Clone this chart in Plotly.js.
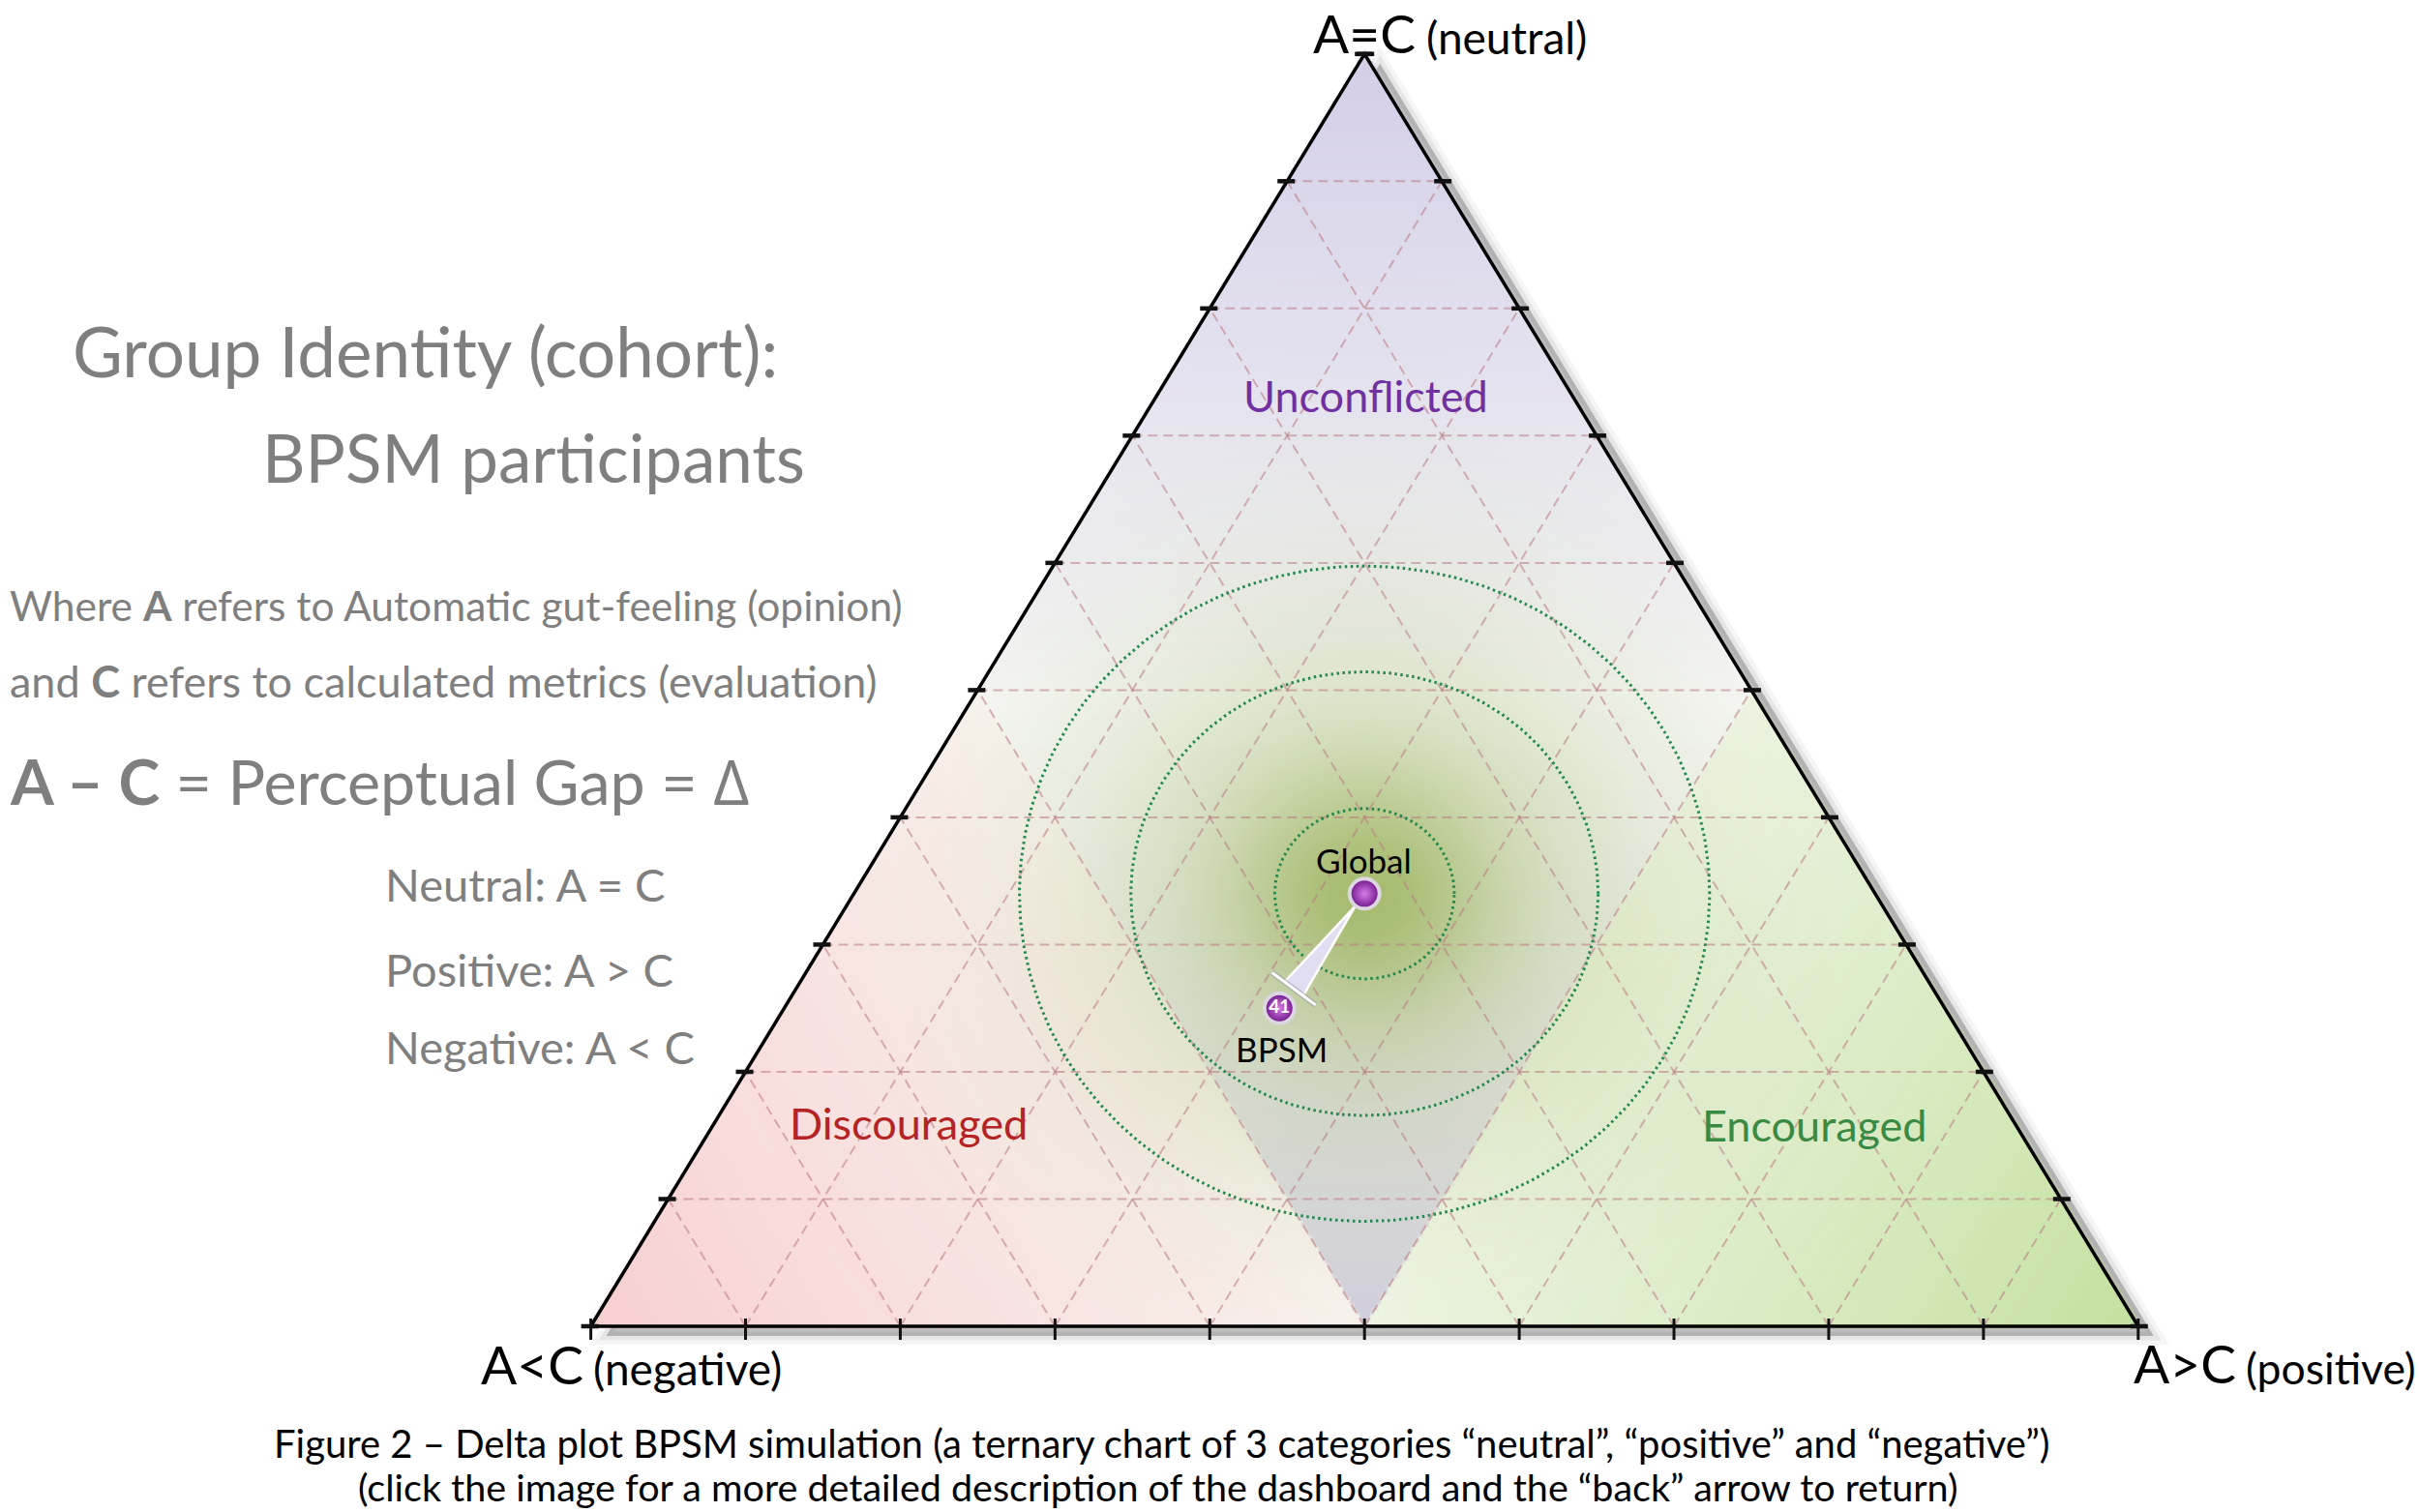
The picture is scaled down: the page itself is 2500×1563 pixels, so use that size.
<!DOCTYPE html>
<html>
<head>
<meta charset="utf-8">
<script src="https://cdn.plot.ly/plotly-3.0.1.min.js"></script>
<style>
html,body{margin:0;padding:0;background:#ffffff;}
#chart{width:2500px;height:1563px;}
</style>
</head>
<body>
<div id="chart"></div>
<script>
// ================= DATA =================
const pointNames    = ['Global', 'BPSM'];
const neutralShare  = [0.34, 0.25];   // A = C
const positiveShare = [0.33, 0.32];   // A > C
const negativeShare = [0.33, 0.43];   // A < C
const pointCounts   = ['', '41'];
const ringRadii     = [0.058, 0.151, 0.223];   // dotted rings around Global (fraction of side)
const gridLevels    = [0.1, 0.2, 0.3, 0.4, 0.5, 0.6, 0.7, 0.8, 0.9];
const tickLevels    = [0, 0.1, 0.2, 0.3, 0.4, 0.5, 0.6, 0.7, 0.8, 0.9, 1];
const vertexMain    = ['A=C', 'A&lt;C', 'A&gt;C'];
const vertexSub     = ['(neutral)', '(negative)', '(positive)'];
const regionNames   = ['Unconflicted', 'Discouraged', 'Encouraged'];
const regionThreshold = 0.5;

// ================= GEOMETRY (layout) =================
const PAGE = {W: 2500, H: 1563};
const TRI = {x0: 610.6, w: 1599.2, yb: 1371, h: 1315.2};
const SQ = Math.sqrt(3) / 2;
function tern(a, b) { return [b + a / 2, a]; }              // neutral a, positive b -> X,Y
function toPx(p) { return [TRI.x0 + p[0] * TRI.w, TRI.yb - p[1] * TRI.h]; }
function fromPx(q) { return [(q[0] - TRI.x0) / TRI.w, (TRI.yb - q[1]) / TRI.h]; }
const xRange = [-TRI.x0 / TRI.w, (PAGE.W - TRI.x0) / TRI.w];
const yRange = [-(PAGE.H - TRI.yb) / TRI.h, TRI.yb / TRI.h];
function P(px, py) { return {x: px / PAGE.W, y: 1 - py / PAGE.H}; }

const FONT = 'Lato, "Open Sans", Arial, sans-serif';
const traces = [];

// ================= BACKGROUND FIELDS (heatmaps) =================
const nx = 461, ny = 386;
const gx = [], gy = [];
for (let i = 0; i < nx; i++) gx.push(-0.01 + i * 1.02 / (nx - 1));
for (let j = 0; j < ny; j++) gy.push(-0.01 + j * 1.02 / (ny - 1));
const G = tern(neutralShare[0], positiveShare[0]);
function field(fn) {
  const z = [];
  for (let j = 0; j < ny; j++) {
    const row = new Array(nx);
    const Y = gy[j];
    for (let i = 0; i < nx; i++) {
      const X = gx[i];
      const a = Y, b = X - Y / 2, c = 1 - a - b;
      const e = -0.0015;
      row[i] = (a >= e && b >= e && c >= e) ? fn(a, b, c, X, Y) : 0;
    }
    z.push(row);
  }
  return z;
}
function heat(z, rgb) {
  traces.push({
    type: 'heatmap', x: gx, y: gy, z: z, zmin: 0, zmax: 1, zsmooth: 'best',
    showscale: false, hoverinfo: 'skip',
    colorscale: [[0, 'rgba(' + rgb + ',0)'], [1, 'rgba(' + rgb + ',1)']]
  });
}
const T = regionThreshold;
heat(field((a, b, c) => a >= T ? 0.08 + 0.62 * (a - T) / (1 - T) : 0), '192,184,220');
heat(field((a, b, c) => (a < T && b < T && c < T) ? 0.07 + 0.62 * Math.pow((T - a) / T, 1.7) : 0), '194,187,216');
heat(field((a, b, c) => c >= T ? 0.08 + 0.38 * (c - T) / (1 - T) : 0), '236,150,150');
heat(field((a, b, c) => b >= T ? 0.12 + 0.52 * (b - T) / (1 - T) : 0), '162,206,104');
heat(field((a, b, c, X, Y) => {
  const dx = X - G[0], dy = (Y - G[1]) * SQ;
  const d = Math.sqrt(dx * dx + dy * dy);
  return 0.33 * Math.exp(-Math.pow(d / 0.08, 2)) + 0.33 * Math.exp(-Math.pow(d / 0.21, 2));
}), '125,158,40');

// ================= GRID =================
const gridX = [], gridY = [];
function addSeg(p, q, ax, ay) { ax.push(p[0], q[0], null); ay.push(p[1], q[1], null); }
gridLevels.forEach(lv => {
  addSeg(tern(lv, 0), tern(lv, 1 - lv), gridX, gridY);       // neutral level
  addSeg(tern(0, lv), tern(1 - lv, lv), gridX, gridY);       // positive level
  addSeg(tern(0, 1 - lv), tern(1 - lv, 0), gridX, gridY);    // negative level
});
traces.push({type: 'scatter', mode: 'lines', x: gridX, y: gridY, hoverinfo: 'skip',
  line: {color: 'rgba(185,120,130,0.55)', width: 2, dash: '10px,6px'}});

// ================= RINGS =================
ringRadii.forEach(r => {
  const rx = [], ry = [];
  for (let k = 0; k <= 360; k++) {
    const t = k * Math.PI / 180;
    rx.push(G[0] + r * Math.cos(t));
    ry.push(G[1] + r * Math.sin(t) / SQ);
  }
  traces.push({type: 'scatter', mode: 'lines', x: rx, y: ry, hoverinfo: 'skip',
    line: {color: '#23894f', width: 3, dash: '2.5px,3.5px'}});
});

// ================= TRIANGLE OUTLINE =================
const vTop = tern(1, 0), vLeft = tern(0, 0), vRight = tern(0, 1);
traces.push({type: 'scatter', mode: 'lines', hoverinfo: 'skip',
  x: [vTop[0], vLeft[0], vRight[0], vTop[0]], y: [vTop[1], vLeft[1], vRight[1], vTop[1]],
  line: {color: '#000000', width: 3.5}});

// ================= TICKS =================
const tkX = [], tkY = [], tbX = [], tbY = [];
tickLevels.forEach(lv => {
  const L = toPx(tern(lv, 0));
  addSeg(fromPx([L[0] - 10, L[1]]), fromPx([L[0] + 8, L[1]]), tkX, tkY);
  const R = toPx(tern(lv, 1 - lv));
  addSeg(fromPx([R[0] - 8, R[1]]), fromPx([R[0] + 10, R[1]]), tkX, tkY);
  const B = toPx(tern(0, lv));
  addSeg(fromPx([B[0], B[1] - 8]), fromPx([B[0], B[1] + 14]), tbX, tbY);
});
traces.push({type: 'scatter', mode: 'lines', x: tkX, y: tkY, hoverinfo: 'skip', line: {color: '#111', width: 4.5}});
traces.push({type: 'scatter', mode: 'lines', x: tbX, y: tbY, hoverinfo: 'skip', line: {color: '#111', width: 3}});

// ================= ARROW Global -> BPSM =================
const ptXY = pointNames.map((n, i) => tern(neutralShare[i], positiveShare[i]));
const gP = toPx(ptXY[0]), bP = toPx(ptXY[1]);
const len = Math.hypot(bP[0] - gP[0], bP[1] - gP[1]);
const u = [(bP[0] - gP[0]) / len, (bP[1] - gP[1]) / len];
const nrm = [-u[1], u[0]];
const tip = [gP[0] + u[0] * 16, gP[1] + u[1] * 16];
const bc = [gP[0] + u[0] * (len - 25), gP[1] + u[1] * (len - 25)];
const w1 = [bc[0] + nrm[0] * 12, bc[1] + nrm[1] * 12], w2 = [bc[0] - nrm[0] * 12, bc[1] - nrm[1] * 12];
const wedge = [tip, w1, w2, tip].map(fromPx);
traces.push({type: 'scatter', mode: 'lines', fill: 'toself', hoverinfo: 'skip',
  x: wedge.map(p => p[0]), y: wedge.map(p => p[1]),
  fillcolor: 'rgba(226,222,242,1)', line: {color: '#ffffff', width: 2.5}});
const cb1 = fromPx([bc[0] + nrm[0] * 28, bc[1] + nrm[1] * 28]);
const cb2 = fromPx([bc[0] - nrm[0] * 28, bc[1] - nrm[1] * 28]);
traces.push({type: 'scatter', mode: 'lines', hoverinfo: 'skip', x: [cb1[0], cb2[0]], y: [cb1[1], cb2[1]],
  line: {color: 'rgba(150,150,170,0.5)', width: 6}});
traces.push({type: 'scatter', mode: 'lines', hoverinfo: 'skip', x: [cb1[0], cb2[0]], y: [cb1[1], cb2[1]],
  line: {color: '#ffffff', width: 3}});

// ================= POINTS =================
traces.push({type: 'scatter', mode: 'markers+text', hoverinfo: 'skip',
  x: ptXY.map(p => p[0]), y: ptXY.map(p => p[1]), text: pointCounts,
  textposition: 'middle center', textfont: {family: FONT, size: 19, color: '#ffffff', weight: 'bold'},
  marker: {size: 31, color: '#6e148a', gradient: {type: 'radial', color: '#d57ee6'},
           line: {color: '#dcd6e0', width: 4}}});

// ================= SHAPES (shadow + white base) =================
const off = [16, 10];
function pathOf(pts) {
  return 'M' + pts.map(p => p[0] + ',' + p[1]).join(' L') + ' Z';
}
const triPts = [vTop, vLeft, vRight];
const shadowPts = triPts.map(p => { const q = toPx(p); return fromPx([q[0] + off[0], q[1] + off[1]]); });
const shapes = [
  {type: 'path', path: pathOf(shadowPts), xref: 'x', yref: 'y', layer: 'below',
   fillcolor: 'rgba(0,0,0,0.06)', line: {color: 'rgba(0,0,0,0.04)', width: 18}},
  {type: 'path', path: pathOf(shadowPts), xref: 'x', yref: 'y', layer: 'below',
   fillcolor: 'rgba(0,0,0,0.08)', line: {color: 'rgba(0,0,0,0.06)', width: 9}},
  {type: 'path', path: pathOf(shadowPts), xref: 'x', yref: 'y', layer: 'below',
   fillcolor: 'rgba(0,0,0,0.10)', line: {width: 0}},
  {type: 'path', path: pathOf(triPts), xref: 'x', yref: 'y', layer: 'below',
   fillcolor: '#ffffff', line: {width: 0}}
];

// ================= TEXT =================
const ann = [];
function txt(text, px, baseline, size, color, anchor) {
  const p = P(px, baseline - 0.387 * size);
  ann.push({text: text, x: p.x, y: p.y, xref: 'paper', yref: 'paper', showarrow: false,
    xanchor: anchor || 'left', yanchor: 'middle', font: {family: FONT, size: size, color: color}});
}
const GRAY = '#7f7f7f';
// vertex labels
txt(vertexMain[0], 1355, 55, 55, '#000');
txt(vertexSub[0], 1472, 56, 46, '#000');
txt(vertexMain[1], 495, 1431, 55, '#000');
txt(vertexSub[1], 611, 1432, 46, '#000');
txt(vertexMain[2], 2203, 1430, 55, '#000');
txt(vertexSub[2], 2319, 1431, 44.5, '#000');
// left explanation
txt('Group Identity (cohort):', 73, 390, 71, GRAY);
txt('BPSM participants', 269, 499, 69, GRAY);
txt('Where <b>A</b> refers to Automatic gut-feeling (opinion)', 8, 642, 42.5, GRAY);
txt('and <b>C</b> refers to calculated metrics (evaluation)', 8, 721, 45, GRAY);
txt('<b>A – C</b> = Perceptual Gap = ∆', 8, 832, 64.5, GRAY);
txt('Neutral: A = C', 396, 932, 47, GRAY);
txt('Positive: A &gt; C', 396, 1020, 47, GRAY);
txt('Negative: A &lt; C', 396, 1100, 47, GRAY);
// regions
txt(regionNames[0], 1411, 426, 45, '#7030a0', 'center');
txt(regionNames[1], 939, 1178, 45, '#b42424', 'center');
txt(regionNames[2], 1875, 1180, 45, '#3a8a44', 'center');
// point labels
txt(pointNames[0], gP[0] - 1, 903, 35, '#000', 'center');
txt(pointNames[1], bP[0] + 2, 1098, 35, '#000', 'center');
// caption
txt('Figure 2 – Delta plot BPSM simulation (a ternary chart of 3 categories “neutral”, “positive” and “negative”)', 1200, 1507, 40, '#000', 'center');
txt('(click the image for a more detailed description of the dashboard and the “back” arrow to return)', 1196, 1552, 39.5, '#000', 'center');

// ================= LAYOUT =================
const axis = {visible: false, showgrid: false, zeroline: false, fixedrange: true, autorange: false};
const layout = {
  width: PAGE.W, height: PAGE.H,
  margin: {l: 0, r: 0, t: 0, b: 0, pad: 0},
  paper_bgcolor: '#ffffff', plot_bgcolor: '#ffffff',
  showlegend: false,
  xaxis: Object.assign({range: xRange}, axis),
  yaxis: Object.assign({range: yRange}, axis),
  shapes: shapes,
  annotations: ann
};
Plotly.newPlot('chart', traces, layout, {staticPlot: true, displayModeBar: false});
</script>
</body>
</html>
